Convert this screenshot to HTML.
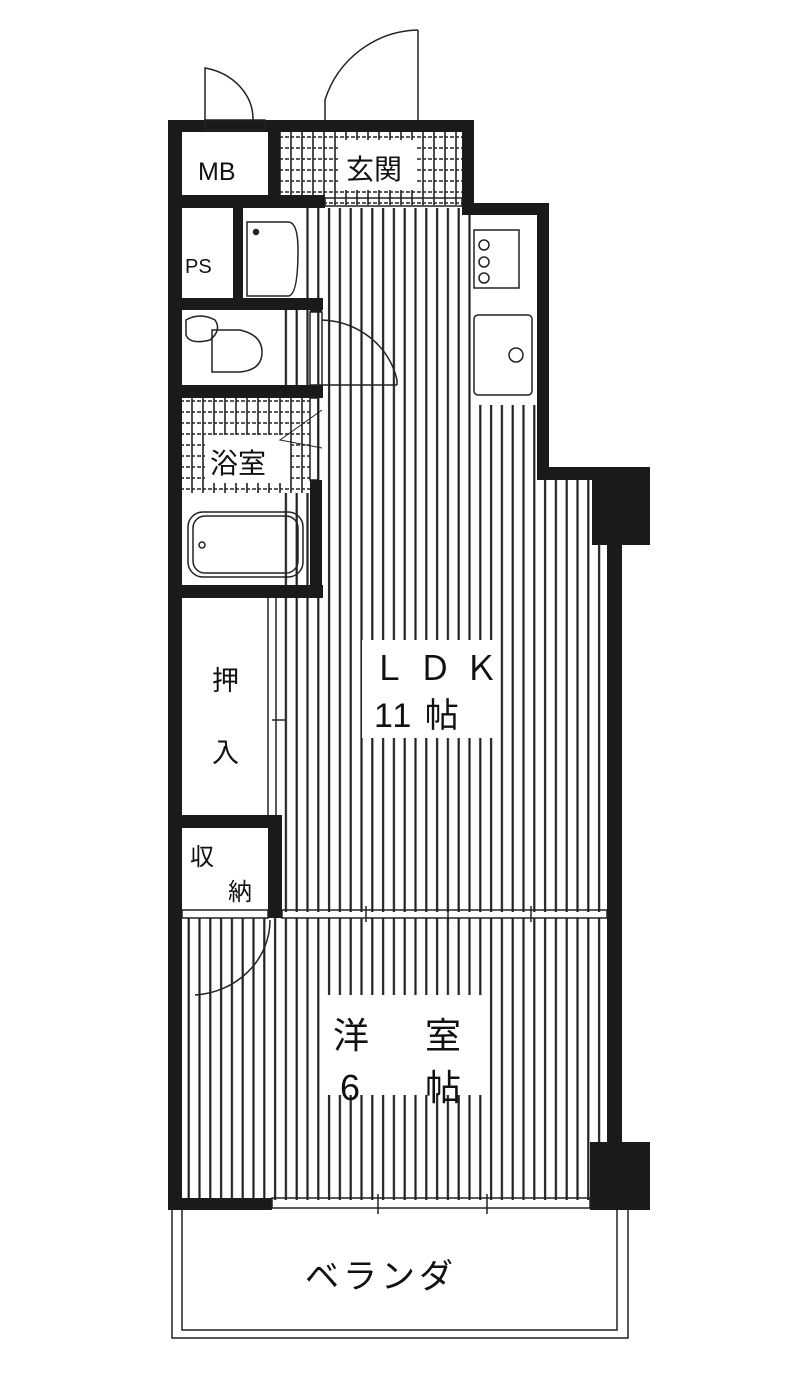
<!DOCTYPE html>
<html><head><meta charset="utf-8"><style>
html,body{margin:0;padding:0;background:#fff;}
svg{display:block;}
text{font-family:"Liberation Sans","Noto Sans CJK JP",sans-serif;fill:#111;}
</style></head><body>
<svg width="793" height="1373" viewBox="0 0 793 1373" xmlns="http://www.w3.org/2000/svg">
<defs>
<pattern id="st" x="0" y="0" width="10.8" height="20" patternUnits="userSpaceOnUse">
<rect x="4" y="0" width="2.2" height="20" fill="#222"/>
</pattern>
<pattern id="gr" x="0" y="0" width="11" height="11" patternUnits="userSpaceOnUse">
<rect x="0" y="0" width="11" height="11" fill="#fff"/>
<line x1="5" y1="0" x2="5" y2="11" stroke="#222" stroke-width="1.6"/>
<line x1="0" y1="5" x2="11" y2="5" stroke="#222" stroke-width="1.4" stroke-dasharray="3 2"/>
</pattern>
</defs>
<rect width="793" height="1373" fill="#fff"/>

<!-- stripes -->
<rect x="282" y="208" width="192" height="704" fill="url(#st)"/>
<rect x="474" y="405" width="66" height="507" fill="url(#st)"/>
<rect x="540" y="480" width="68" height="432" fill="url(#st)"/>
<rect x="182" y="918" width="426" height="282" fill="url(#st)"/>
<rect x="298" y="208" width="0" height="92" fill="#fff"/>
<rect x="243" y="208" width="55" height="92" fill="#fff"/>

<!-- grids -->
<rect x="280" y="132" width="182" height="73" fill="url(#gr)"/>
<rect x="182" y="398" width="128" height="95" fill="url(#gr)"/>

<!-- label backgrounds -->
<rect x="340" y="140" width="75" height="50" fill="#fff"/>
<rect x="205" y="435" width="85" height="48" fill="#fff"/>
<rect x="362" y="640" width="135" height="98" fill="#fff"/>
<rect x="325" y="995" width="160" height="100" fill="#fff"/>

<!-- walls -->
<g fill="#1a1a1a">
<rect x="168" y="120" width="306" height="12"/>
<rect x="168" y="120" width="14" height="1090"/>
<rect x="268" y="120" width="12" height="78"/>
<rect x="462" y="120" width="12" height="95"/>
<rect x="462" y="203" width="87" height="12"/>
<rect x="537" y="203" width="12" height="275"/>
<rect x="537" y="467" width="113" height="13"/>
<rect x="592" y="467" width="58" height="78"/>
<rect x="607" y="480" width="15" height="730"/>
<rect x="590" y="1142" width="60" height="68"/>
<rect x="168" y="1198" width="104" height="12"/>
<rect x="168" y="195" width="157" height="13"/>
<rect x="233" y="208" width="10" height="92"/>
<rect x="168" y="298" width="155" height="12"/>
<rect x="310" y="298" width="12" height="14"/>
<rect x="168" y="385" width="155" height="13"/>
<rect x="310" y="480" width="12" height="118"/>
<rect x="168" y="585" width="155" height="13"/>
<rect x="168" y="815" width="114" height="13"/>
<rect x="268" y="815" width="14" height="103"/>
</g>

<!-- thin lines / openings -->
<g fill="none" stroke="#222" stroke-width="1.5">
<rect x="325" y="198" width="137" height="8"/>
<rect x="205" y="120" width="60" height="10"/>
<rect x="310" y="312" width="12" height="73"/>
<rect x="310" y="398" width="8" height="82"/>
<line x1="268" y1="598" x2="268" y2="815"/>
<line x1="276" y1="598" x2="276" y2="815"/>
<line x1="272" y1="720" x2="285" y2="720"/>
<rect x="182" y="910" width="86" height="8"/>
<rect x="282" y="910" width="325" height="8"/>
<line x1="366" y1="906" x2="366" y2="922"/>
<line x1="448" y1="906" x2="448" y2="922"/>
<line x1="531" y1="906" x2="531" y2="922"/>
<rect x="272" y="1198" width="318" height="10"/>
<line x1="378" y1="1194" x2="378" y2="1214"/>
<line x1="487" y1="1194" x2="487" y2="1214"/>
<!-- doors -->
<path d="M205 120 V68 A60 52 0 0 1 253 120"/>
<path d="M325 120 V100 A100 100 0 0 1 418 30"/>
<line x1="418" y1="30" x2="418" y2="120"/>
<path d="M322 320 A80 75 0 0 1 397 380 V385"/>
<line x1="322" y1="385" x2="397" y2="385"/>
<path d="M322 410 L280 440 L322 448" stroke-width="1"/>
<path d="M270 920 A80 75 0 0 1 195 995"/>
<!-- fixtures -->
<path d="M247 222 H288 Q298 222 298 250 Q298 296 288 296 H247 Z"/>
<circle cx="256" cy="232" r="2.5" fill="#222"/>
<path d="M186 320 Q200 312 215 320 Q222 330 210 340 Q190 345 186 335 Z"/>
<path d="M212 330 H240 Q262 335 262 352 Q262 370 240 372 H212 Z"/>
<rect x="474" y="230" width="45" height="58"/>
<circle cx="484" cy="245" r="5"/><circle cx="484" cy="262" r="5"/><circle cx="484" cy="278" r="5"/>
<rect x="474" y="315" width="58" height="80" rx="4"/>
<circle cx="516" cy="355" r="7"/>
<rect x="188" y="512" width="115" height="65" rx="15"/>
<rect x="193" y="516" width="105" height="57" rx="12"/>
<circle cx="202" cy="545" r="3"/>
<!-- veranda -->
<path d="M172 1210 V1338 H628 V1210"/>
<path d="M182 1210 V1330 H617 V1210"/>
</g>

<!-- labels -->
<text x="198" y="180" font-size="25">MB</text>
<text x="346" y="179" font-size="28">玄関</text>
<text x="185" y="273" font-size="20">PS</text>
<text x="210" y="473" font-size="28">浴室</text>
<text x="212" y="690" font-size="27">押</text>
<text x="212" y="762" font-size="27">入</text>
<text x="190" y="865" font-size="24">収</text>
<text x="228" y="900" font-size="24">納</text>
<text x="372" y="680" font-size="34" letter-spacing="12">ＬＤＫ</text>
<text x="374" y="727" font-size="34" letter-spacing="2">11 帖</text>
<text x="333" y="1048" font-size="36">洋</text>
<text x="425" y="1048" font-size="36">室</text>
<text x="340" y="1100" font-size="36">6</text>
<text x="425" y="1100" font-size="36">帖</text>
<text x="305" y="1288" font-size="34" letter-spacing="4">ベランダ</text>
</svg>
</body></html>
